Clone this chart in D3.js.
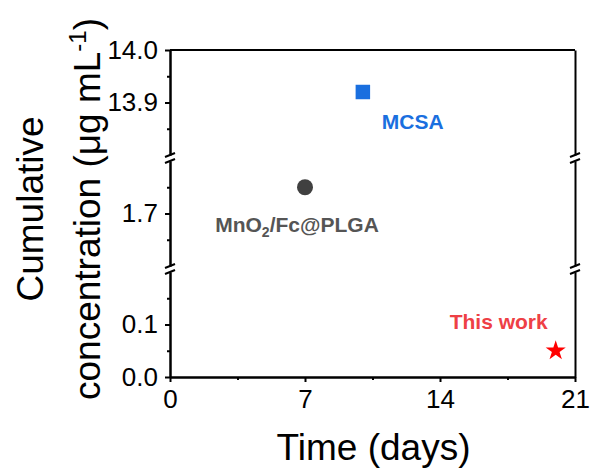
<!DOCTYPE html>
<html>
<head>
<meta charset="utf-8">
<script src="https://cdn.jsdelivr.net/npm/d3@7"></script>
<style>
  body { margin: 0; background: #fff; }
  svg { display: block; font-family: Arial, "Liberation Sans", sans-serif; }
</style>
</head>
<body>
<svg id="chart"></svg>
<script>
// Data
const names = ["MnO2/Fc@PLGA", "MCSA", "This work"];
const days = [7, 10, 20];
const conc = [1.75, 13.92, 0.05];
const shapes = ["circle", "square", "star"];
const colors = ["#404040", "#1a6fdf", "#ff0000"];
const labelColors = ["#555555", "#1a6fdf", "#ee4045"];

const xTicks = [0, 7, 14, 21];
const xMinor = [3.5, 10.5, 17.5];

// broken y axis: three segments, top to bottom
const segDomains = [[13.8, 14.0], [1.6, 1.8], [0.0, 0.2]];
const segTicks = [[13.9, 14.0], [1.7], [0.0, 0.1]];
const segMinor = [[13.85, 13.95], [1.65, 1.75], [0.05, 0.15]];

const width = 591, height = 469;
const plotLeft = 170, plotRight = 575, plotTop = 50, plotBottom = 377;
const gap = 6;
const segH = (plotBottom - plotTop - gap * (segDomains.length - 1)) / segDomains.length;

const svg = d3.select("#chart").attr("width", width).attr("height", height);

const x = d3.scaleLinear().domain([0, 21]).range([plotLeft, plotRight]);

// one y scale per segment
const yScales = segDomains.map((dom, i) => {
    const y0 = plotTop + i * (segH + gap);
    return d3.scaleLinear().domain(dom).range([y0 + segH, y0]);
});

function styleAxis(g) {
    g.select(".domain").attr("stroke-width", 2);
    g.selectAll(".tick line").attr("stroke-width", 2);
    g.selectAll(".tick text").attr("font-size", 26).attr("fill", "#000");
}

// left axis segments + right axis segments
yScales.forEach((y, i) => {
    const g = svg.append("g").attr("transform", `translate(${plotLeft},0)`);
    g.call(d3.axisLeft(y).tickValues(segMinor[i]).tickSize(3).tickSizeOuter(0).tickFormat(""))
        .call(styleAxis);
    g.append("g")
        .call(d3.axisLeft(y).tickValues(segTicks[i]).tickSize(5).tickSizeOuter(0)
            .tickPadding(7).tickFormat(d3.format(".1f")))
        .call(styleAxis);

    svg.append("g").attr("transform", `translate(${plotRight},0)`)
        .call(d3.axisRight(y).tickValues([]).tickSizeOuter(0))
        .call(styleAxis);
});

// top frame line
svg.append("line")
    .attr("x1", plotLeft).attr("x2", plotRight)
    .attr("y1", plotTop).attr("y2", plotTop)
    .attr("stroke", "#000").attr("stroke-width", 2);

// break marks at the gaps
const breaks = [];
yScales.forEach((y, i) => {
    if (i > 0) {
        breaks.push(y.range()[1]);
        breaks.push(yScales[i - 1].range()[0]);
    }
});
[plotLeft, plotRight].forEach(xx => {
    svg.selectAll(null)
        .data(breaks)
        .enter()
        .append("line")
        .attr("x1", xx - 5).attr("y1", d => d + 2)
        .attr("x2", xx + 5).attr("y2", d => d - 2)
        .attr("stroke", "#000").attr("stroke-width", 2);
});

// x axis
const gx = svg.append("g").attr("transform", `translate(0,${plotBottom})`);
gx.call(d3.axisBottom(x).tickValues(xMinor).tickSize(3).tickSizeOuter(0).tickFormat(""))
    .call(styleAxis);
gx.append("g")
    .call(d3.axisBottom(x).tickValues(xTicks).tickSize(5).tickSizeOuter(0).tickPadding(8))
    .call(styleAxis);

// axis titles
svg.append("text")
    .attr("x", (plotLeft + plotRight) / 2 + 1)
    .attr("y", 460)
    .attr("text-anchor", "middle")
    .attr("font-size", 37)
    .text("Time (days)");

const yTitle = svg.append("g").attr("transform", "translate(0,209) rotate(-90)");
yTitle.append("text")
    .attr("x", 0).attr("y", 43)
    .attr("text-anchor", "middle")
    .attr("font-size", 37)
    .text("Cumulative");
const t2 = yTitle.append("text")
    .attr("x", 0).attr("y", 100)
    .attr("text-anchor", "middle")
    .attr("font-size", 37);
t2.append("tspan").text("concentration (μg mL");
t2.append("tspan").attr("font-size", 24).attr("dy", -14).text("-1");
t2.append("tspan").attr("dy", 14).text(")");

// points
function segFor(v) {
    return yScales.find(s => v >= s.domain()[0] && v <= s.domain()[1]);
}
const symbolTypes = { circle: d3.symbolCircle, square: d3.symbolSquare, star: d3.symbolStar };
const symbolSizes = { circle: 201, square: 210, star: 125 };

const pts = names.map((n, i) => ({
    name: n, px: x(days[i]), py: segFor(conc[i])(conc[i]),
    shape: shapes[i], color: colors[i], labelColor: labelColors[i]
}));

svg.selectAll(".pt")
    .data(pts)
    .enter()
    .append("path")
    .attr("class", "pt")
    .attr("transform", d => `translate(${d.px},${d.py})`)
    .attr("d", d => d3.symbol().type(symbolTypes[d.shape]).size(symbolSizes[d.shape])())
    .attr("fill", d => d.color);

// label placement relative to each marker
const labelPos = {
    circle: { dx: -8, dy: 45, anchor: "middle" },
    square: { dx: 19, dy: 37, anchor: "start" },
    star: { dx: -8, dy: -22, anchor: "end" }
};

svg.selectAll(".lbl")
    .data(pts)
    .enter()
    .append("text")
    .attr("class", "lbl")
    .attr("x", d => d.px + labelPos[d.shape].dx)
    .attr("y", d => d.py + labelPos[d.shape].dy)
    .attr("text-anchor", d => labelPos[d.shape].anchor)
    .attr("font-size", 21)
    .attr("font-weight", "bold")
    .attr("fill", d => d.labelColor)
    .each(function (d) {
        // digits in chemical names are subscripts
        const parts = d.name.split(/(\d)/).filter(s => s.length);
        const t = d3.select(this);
        parts.forEach(p => {
            if (/^\d$/.test(p)) {
                t.append("tspan").attr("font-size", 14).attr("dy", 5).text(p);
            } else {
                const span = t.append("tspan").text(p);
                if (t.selectAll("tspan").size() > 1) span.attr("dy", -5);
            }
        });
    });
</script>
</body>
</html>
